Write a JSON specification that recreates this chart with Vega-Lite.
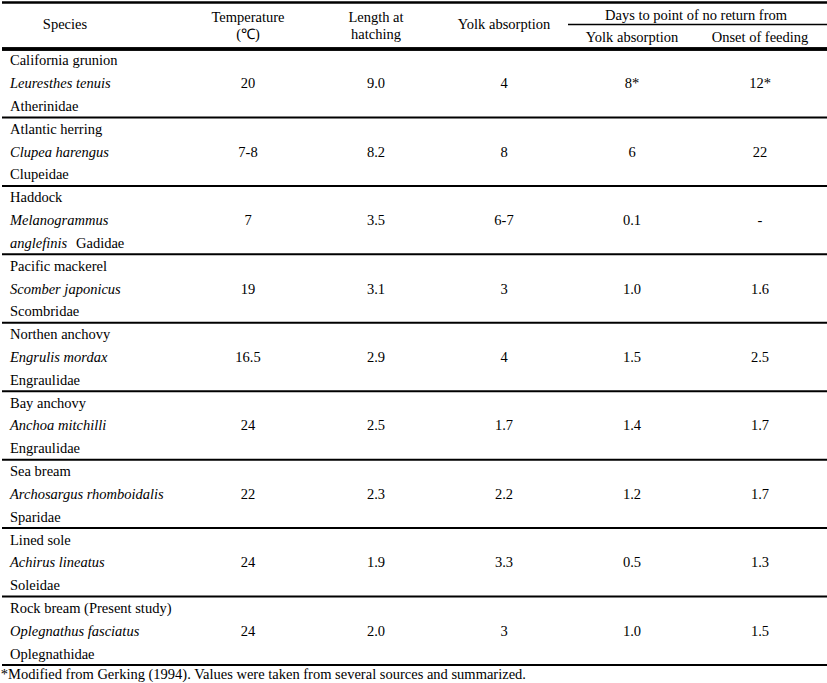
{
  "$schema": "https://vega.github.io/schema/vega-lite/v6.json",
  "padding": {"top": 1, "left": 0, "right": 0, "bottom": 0},
  "spacing": 0,
  "background": "white",
  "config": {
    "view": {"stroke": null},
    "font": "Liberation Serif",
    "text": {"font": "Liberation Serif", "fontSize": 14.5, "color": "black"},
    "rule": {"color": "black"},
    "title": {"font": "Liberation Serif", "fontSize": 14.5, "fontWeight": "normal", "color": "black"}
  },
  "title": {"text": "*Modified from Gerking (1994). Values were taken from several sources and summarized.", "orient": "bottom", "anchor": "start", "offset": 2},
  "datasets": {
    "header": [
      {"col": "Species", "label": "Species", "tier": "main"},
      {"col": "Temperature", "label": "Temperature\n(℃)", "tier": "main"},
      {"col": "Length", "label": "Length at\nhatching", "tier": "main"},
      {"col": "Yolk", "label": "Yolk absorption", "tier": "main"},
      {"col": "PNR_onset", "label": "Days to point of no return from", "tier": "upper"},
      {"col": "PNR_yolk", "label": "Yolk absorption", "tier": "lower"},
      {"col": "PNR_onset", "label": "Onset of feeding", "tier": "lower"}
    ],
    "names": [
      {"species": "California grunion", "line": 1, "text": "California grunion", "italic": false, "tail": false},
      {"species": "California grunion", "line": 2, "text": "Leuresthes tenuis", "italic": true, "tail": false},
      {"species": "California grunion", "line": 3, "text": "Atherinidae", "italic": false, "tail": false},
      {"species": "Atlantic herring", "line": 1, "text": "Atlantic herring", "italic": false, "tail": false},
      {"species": "Atlantic herring", "line": 2, "text": "Clupea harengus", "italic": true, "tail": false},
      {"species": "Atlantic herring", "line": 3, "text": "Clupeidae", "italic": false, "tail": false},
      {"species": "Haddock", "line": 1, "text": "Haddock", "italic": false, "tail": false},
      {"species": "Haddock", "line": 2, "text": "Melanogrammus", "italic": true, "tail": false},
      {"species": "Haddock", "line": 3, "text": "anglefinis", "italic": true, "tail": false},
      {"species": "Haddock", "line": 3, "text": "Gadidae", "italic": false, "tail": true},
      {"species": "Pacific mackerel", "line": 1, "text": "Pacific mackerel", "italic": false, "tail": false},
      {"species": "Pacific mackerel", "line": 2, "text": "Scomber japonicus", "italic": true, "tail": false},
      {"species": "Pacific mackerel", "line": 3, "text": "Scombridae", "italic": false, "tail": false},
      {"species": "Northen anchovy", "line": 1, "text": "Northen anchovy", "italic": false, "tail": false},
      {"species": "Northen anchovy", "line": 2, "text": "Engrulis mordax", "italic": true, "tail": false},
      {"species": "Northen anchovy", "line": 3, "text": "Engraulidae", "italic": false, "tail": false},
      {"species": "Bay anchovy", "line": 1, "text": "Bay anchovy", "italic": false, "tail": false},
      {"species": "Bay anchovy", "line": 2, "text": "Anchoa mitchilli", "italic": true, "tail": false},
      {"species": "Bay anchovy", "line": 3, "text": "Engraulidae", "italic": false, "tail": false},
      {"species": "Sea bream", "line": 1, "text": "Sea bream", "italic": false, "tail": false},
      {"species": "Sea bream", "line": 2, "text": "Archosargus rhomboidalis", "italic": true, "tail": false},
      {"species": "Sea bream", "line": 3, "text": "Sparidae", "italic": false, "tail": false},
      {"species": "Lined sole", "line": 1, "text": "Lined sole", "italic": false, "tail": false},
      {"species": "Lined sole", "line": 2, "text": "Achirus lineatus", "italic": true, "tail": false},
      {"species": "Lined sole", "line": 3, "text": "Soleidae", "italic": false, "tail": false},
      {"species": "Rock bream", "line": 1, "text": "Rock bream (Present study)", "italic": false, "tail": false},
      {"species": "Rock bream", "line": 2, "text": "Oplegnathus fasciatus", "italic": true, "tail": false},
      {"species": "Rock bream", "line": 3, "text": "Oplegnathidae", "italic": false, "tail": false}
    ],
    "cells": [
      {"species": "California grunion", "col": "Temperature", "value": "20"},
      {"species": "California grunion", "col": "Length", "value": "9.0"},
      {"species": "California grunion", "col": "Yolk", "value": "4"},
      {"species": "California grunion", "col": "PNR_yolk", "value": "8*"},
      {"species": "California grunion", "col": "PNR_onset", "value": "12*"},
      {"species": "Atlantic herring", "col": "Temperature", "value": "7-8"},
      {"species": "Atlantic herring", "col": "Length", "value": "8.2"},
      {"species": "Atlantic herring", "col": "Yolk", "value": "8"},
      {"species": "Atlantic herring", "col": "PNR_yolk", "value": "6"},
      {"species": "Atlantic herring", "col": "PNR_onset", "value": "22"},
      {"species": "Haddock", "col": "Temperature", "value": "7"},
      {"species": "Haddock", "col": "Length", "value": "3.5"},
      {"species": "Haddock", "col": "Yolk", "value": "6-7"},
      {"species": "Haddock", "col": "PNR_yolk", "value": "0.1"},
      {"species": "Haddock", "col": "PNR_onset", "value": "-"},
      {"species": "Pacific mackerel", "col": "Temperature", "value": "19"},
      {"species": "Pacific mackerel", "col": "Length", "value": "3.1"},
      {"species": "Pacific mackerel", "col": "Yolk", "value": "3"},
      {"species": "Pacific mackerel", "col": "PNR_yolk", "value": "1.0"},
      {"species": "Pacific mackerel", "col": "PNR_onset", "value": "1.6"},
      {"species": "Northen anchovy", "col": "Temperature", "value": "16.5"},
      {"species": "Northen anchovy", "col": "Length", "value": "2.9"},
      {"species": "Northen anchovy", "col": "Yolk", "value": "4"},
      {"species": "Northen anchovy", "col": "PNR_yolk", "value": "1.5"},
      {"species": "Northen anchovy", "col": "PNR_onset", "value": "2.5"},
      {"species": "Bay anchovy", "col": "Temperature", "value": "24"},
      {"species": "Bay anchovy", "col": "Length", "value": "2.5"},
      {"species": "Bay anchovy", "col": "Yolk", "value": "1.7"},
      {"species": "Bay anchovy", "col": "PNR_yolk", "value": "1.4"},
      {"species": "Bay anchovy", "col": "PNR_onset", "value": "1.7"},
      {"species": "Sea bream", "col": "Temperature", "value": "22"},
      {"species": "Sea bream", "col": "Length", "value": "2.3"},
      {"species": "Sea bream", "col": "Yolk", "value": "2.2"},
      {"species": "Sea bream", "col": "PNR_yolk", "value": "1.2"},
      {"species": "Sea bream", "col": "PNR_onset", "value": "1.7"},
      {"species": "Lined sole", "col": "Temperature", "value": "24"},
      {"species": "Lined sole", "col": "Length", "value": "1.9"},
      {"species": "Lined sole", "col": "Yolk", "value": "3.3"},
      {"species": "Lined sole", "col": "PNR_yolk", "value": "0.5"},
      {"species": "Lined sole", "col": "PNR_onset", "value": "1.3"},
      {"species": "Rock bream", "col": "Temperature", "value": "24"},
      {"species": "Rock bream", "col": "Length", "value": "2.0"},
      {"species": "Rock bream", "col": "Yolk", "value": "3"},
      {"species": "Rock bream", "col": "PNR_yolk", "value": "1.0"},
      {"species": "Rock bream", "col": "PNR_onset", "value": "1.5"}
    ]
  },
  "vconcat": [
    {
      "width": 827,
      "height": 45,
      "data": {"name": "header"},
      "layer": [
        {
          "transform": [{"filter": "datum.col === 'Species'"}],
          "mark": {"type": "rule", "strokeWidth": 2.5},
          "encoding": {"y": {"value": 0.5}}
        },
        {
          "transform": [{"filter": "datum.tier === 'main' && datum.col === 'Species'"}],
          "mark": {"type": "text", "baseline": "middle", "dx": -55, "dy": 0},
          "encoding": {
            "x": {"field": "col", "type": "nominal", "bandPosition": 0.5, "axis": null, "scale": {"type": "band", "domain": ["Species", "Temperature", "Length", "Yolk", "PNR_yolk", "PNR_onset"], "range": [54, 822], "paddingInner": 0, "paddingOuter": 0}},
            "text": {"field": "label"}
          }
        },
        {
          "transform": [{"filter": "datum.tier === 'main' && datum.col !== 'Species' && indexof(datum.label, '\\n') >= 0"}],
          "mark": {"type": "text", "baseline": "middle", "lineBreak": "\n", "lineHeight": 17, "dy": -7},
          "encoding": {
            "x": {"field": "col", "type": "nominal", "bandPosition": 0.5},
            "text": {"field": "label"}
          }
        },
        {
          "transform": [{"filter": "datum.tier === 'main' && datum.col !== 'Species' && indexof(datum.label, '\\n') < 0"}],
          "mark": {"type": "text", "baseline": "middle", "dy": 0},
          "encoding": {
            "x": {"field": "col", "type": "nominal", "bandPosition": 0.5},
            "text": {"field": "label"}
          }
        },
        {
          "transform": [{"filter": "datum.tier === 'upper'"}],
          "mark": {"type": "text", "baseline": "middle", "dy": 3},
          "encoding": {
            "x": {"field": "col", "type": "nominal", "bandPosition": 0},
            "y": {"field": "tier", "type": "nominal", "bandPosition": 0.5, "axis": null, "scale": {"type": "band", "domain": ["upper", "lower"], "paddingInner": 0, "paddingOuter": 0}},
            "text": {"field": "label"}
          }
        },
        {
          "transform": [{"filter": "datum.tier === 'lower'"}],
          "mark": {"type": "text", "baseline": "middle", "dy": 2},
          "encoding": {
            "x": {"field": "col", "type": "nominal", "bandPosition": 0.5},
            "y": {"field": "tier", "type": "nominal", "bandPosition": 0.5},
            "text": {"field": "label"}
          }
        },
        {
          "transform": [{"filter": "datum.tier === 'lower' && datum.col === 'PNR_yolk'"}],
          "mark": {"type": "rule", "strokeWidth": 1.5},
          "encoding": {
            "x": {"field": "col", "type": "nominal", "bandPosition": 0},
            "x2": {"value": "width"},
            "y": {"field": "tier", "type": "nominal", "bandPosition": 0}
          }
        }
      ]
    },
    {
      "width": 827,
      "height": 616,
      "layer": [
        {
          "data": {"name": "names"},
          "transform": [{"filter": "datum.line === 1"}],
          "mark": {"type": "rule", "strokeWidth": 2},
          "encoding": {
            "y": {"field": "species", "type": "nominal", "bandPosition": 1, "axis": null, "sort": null, "scale": {"type": "band", "paddingInner": 0, "paddingOuter": 0}}
          }
        },
        {
          "data": {"name": "names"},
          "transform": [{"filter": "datum.line === 1"}],
          "mark": {"type": "rule", "strokeWidth": 2.5},
          "encoding": {"y": {"value": 0}}
        },
        {
          "data": {"name": "names"},
          "transform": [{"filter": "!datum.italic && !datum.tail"}],
          "mark": {"type": "text", "align": "left", "baseline": "middle", "dx": -46, "dy": 1},
          "encoding": {
            "x": {"datum": "Species", "type": "nominal", "bandPosition": 0, "axis": null, "scale": {"type": "band", "domain": ["Species", "Temperature", "Length", "Yolk", "PNR_yolk", "PNR_onset"], "range": [54, 822], "paddingInner": 0, "paddingOuter": 0}},
            "y": {"field": "species", "type": "nominal", "bandPosition": 0, "sort": null},
            "yOffset": {"field": "line", "type": "ordinal", "scale": {"type": "band", "paddingInner": 0, "paddingOuter": 0}},
            "text": {"field": "text"}
          }
        },
        {
          "data": {"name": "names"},
          "transform": [{"filter": "datum.italic"}],
          "mark": {"type": "text", "align": "left", "baseline": "middle", "dx": -46, "dy": 1, "fontStyle": "italic"},
          "encoding": {
            "x": {"datum": "Species", "type": "nominal", "bandPosition": 0},
            "y": {"field": "species", "type": "nominal", "bandPosition": 0, "sort": null},
            "yOffset": {"field": "line", "type": "ordinal"},
            "text": {"field": "text"}
          }
        },
        {
          "data": {"name": "names"},
          "transform": [{"filter": "datum.tail"}],
          "mark": {"type": "text", "align": "left", "baseline": "middle", "dx": 20, "dy": 1},
          "encoding": {
            "x": {"datum": "Species", "type": "nominal", "bandPosition": 0},
            "y": {"field": "species", "type": "nominal", "bandPosition": 0, "sort": null},
            "yOffset": {"field": "line", "type": "ordinal"},
            "text": {"field": "text"}
          }
        },
        {
          "data": {"name": "cells"},
          "mark": {"type": "text", "baseline": "middle", "dy": 1},
          "encoding": {
            "x": {"field": "col", "type": "nominal", "bandPosition": 0.5},
            "y": {"field": "species", "type": "nominal", "bandPosition": 0.5, "sort": null},
            "text": {"field": "value"}
          }
        }
      ]
    }
  ]
}
